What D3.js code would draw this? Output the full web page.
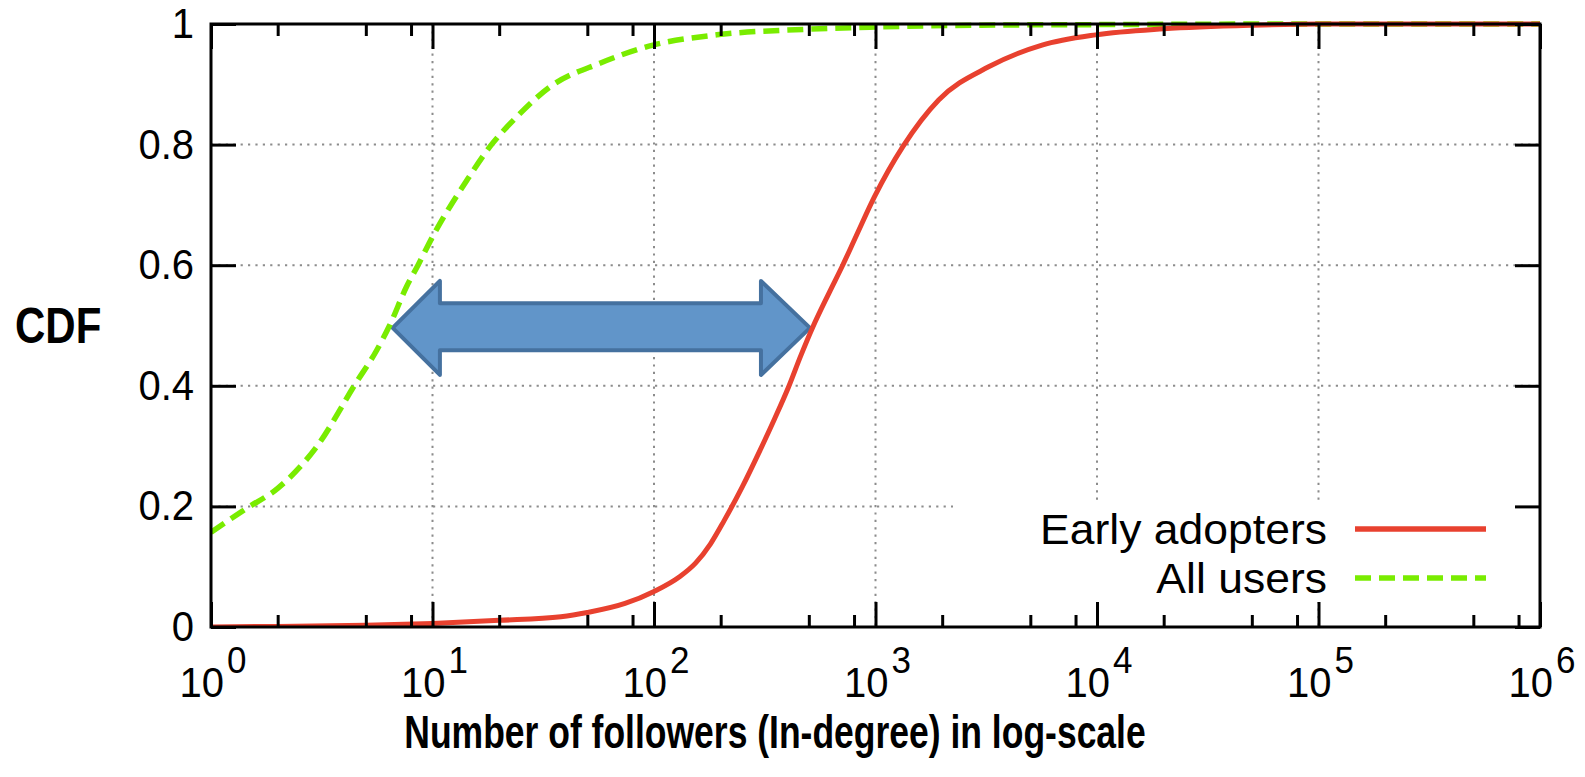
<!DOCTYPE html>
<html>
<head>
<meta charset="utf-8">
<script src="https://cdn.jsdelivr.net/npm/d3@7"></script>
<style>
  html, body { margin: 0; padding: 0; background: #fff; }
  svg { display: block; }
  text { font-family: "Liberation Sans", Arial, Helvetica, sans-serif; fill: #000; }
</style>
</head>
<body>
<svg id="chart" width="1585" height="777"></svg>
<script>
// ---- Data ----
const earlyX = [1, 2, 5, 10, 20, 38, 50, 74, 100, 130, 154, 180, 207, 250, 301, 350, 405, 460, 522, 615, 711, 817, 991, 1331, 1928, 3241, 5648, 9863, 20000, 50000, 100000, 1000000];
const earlyY = [0, 0.001, 0.003, 0.006, 0.011, 0.017, 0.024, 0.039, 0.059, 0.083, 0.106, 0.138, 0.176, 0.232, 0.293, 0.345, 0.398, 0.45, 0.498, 0.553, 0.6, 0.648, 0.714, 0.797, 0.874, 0.929, 0.965, 0.982, 0.992, 0.998, 1, 1];

const allX = [1, 1.45, 2, 3, 4.5, 5.6, 6.4, 7.65, 8.6, 10, 14.3, 18.2, 24, 34, 57, 99, 192, 470, 1000, 3000, 10000, 100000, 1000000];
const allY = [0.157, 0.197, 0.23, 0.299, 0.404, 0.459, 0.5, 0.565, 0.6, 0.647, 0.741, 0.797, 0.846, 0.896, 0.935, 0.965, 0.982, 0.991, 0.995, 0.998, 0.999, 1, 1];

const seriesNames = ["Early adopters", "All users"];
const yTicks = [0, 0.2, 0.4, 0.6, 0.8, 1];
const yTickLabels = ["0", "0.2", "0.4", "0.6", "0.8", "1"];
const xMajor = [1, 10, 100, 1000, 10000, 100000, 1000000];
const xMajorExp = ["0", "1", "2", "3", "4", "5", "6"];
const xMinorMult = [2, 5, 8];
const yTitle = "CDF";
const xTitle = "Number of followers (In-degree) in log-scale";

// double-headed arrow annotation, in data units (followers, CDF)
const arrowX = [6.61, 10.8, 10.8, 304, 304, 506, 304, 304, 10.8, 10.8];
const arrowY = [0.496, 0.574, 0.537, 0.537, 0.574, 0.496, 0.418, 0.459, 0.459, 0.418];

// ---- Layout ----
const L = 211, R = 1540, T = 24, B = 627;
const svg = d3.select("#chart");
const x = d3.scaleLog().domain([1, 1e6]).range([L, R]);
const y = d3.scaleLinear().domain([0, 1]).range([B, T]);

const minors = [];
for (let d = 0; d < 6; d++) xMinorMult.forEach(m => minors.push(m * Math.pow(10, d)));

// grid
const grid = svg.append("g").attr("stroke", "#8c8c8c").attr("stroke-width", 2).attr("stroke-dasharray", "2.2,5.2");
grid.selectAll("line.gx").data(xMajor.slice(1, -1)).join("line")
  .attr("x1", d => x(d)).attr("x2", d => x(d)).attr("y1", y(1)).attr("y2", y(0));
grid.selectAll("line.gy").data(yTicks.slice(1, -1)).join("line")
  .attr("y1", d => y(d)).attr("y2", d => y(d)).attr("x1", L).attr("x2", R);

// legend background (hides grid)
svg.append("rect").attr("x", 953).attr("y", 504).attr("width", R - 953 - 2).attr("height", 98).attr("fill", "#fff");

// arrow
const arrowPts = arrowX.map((v, i) => [x(v), y(arrowY[i])]);
svg.append("path")
  .attr("d", d3.line()(arrowPts) + "Z")
  .attr("fill", "#6195c9").attr("stroke", "#45719f").attr("stroke-width", 4).attr("stroke-linejoin", "round");

// curves
svg.append("clipPath").attr("id", "clip").append("rect").attr("x", L).attr("y", T - 4).attr("width", R - L).attr("height", B - T + 4);
const line = d3.line().x(d => x(d[0])).y(d => y(d[1])).curve(d3.curveMonotoneX);
const curves = svg.append("g").attr("clip-path", "url(#clip)");
curves.append("path").datum(allX.map((v, i) => [v, allY[i]]))
  .attr("d", line).attr("fill", "none").attr("stroke", "#79ec00").attr("stroke-width", 5.5).attr("stroke-dasharray", "16,8");
curves.append("path").datum(earlyX.map((v, i) => [v, earlyY[i]]))
  .attr("d", line).attr("fill", "none").attr("stroke", "#e8412f").attr("stroke-width", 5);

// axes ticks
function styleAxis(g) {
  g.select(".domain").remove();
  g.selectAll(".tick line").attr("stroke", "#000").attr("stroke-width", 3);
}
svg.append("g").attr("transform", `translate(0,${B})`)
  .call(d3.axisBottom(x).tickValues(xMajor).tickSize(-25).tickFormat("")).call(styleAxis);
svg.append("g").attr("transform", `translate(0,${B})`)
  .call(d3.axisBottom(x).tickValues(minors).tickSize(-12).tickFormat("")).call(styleAxis);
svg.append("g").attr("transform", `translate(0,${T})`)
  .call(d3.axisTop(x).tickValues(xMajor).tickSize(-25).tickFormat("")).call(styleAxis);
svg.append("g").attr("transform", `translate(0,${T})`)
  .call(d3.axisTop(x).tickValues(minors).tickSize(-12).tickFormat("")).call(styleAxis);
svg.append("g").attr("transform", `translate(${R},0)`)
  .call(d3.axisRight(y).tickValues(yTicks).tickSize(-25).tickFormat("")).call(styleAxis);
const yAx = svg.append("g").attr("transform", `translate(${L},0)`)
  .call(d3.axisLeft(y).tickValues(yTicks).tickSize(-25).tickPadding(17).tickFormat((d, i) => yTickLabels[i]))
  .call(styleAxis);
yAx.selectAll(".tick text").attr("font-size", 40).attr("font-family", "'Liberation Sans', Arial, sans-serif").attr("fill", "#000")
  .attr("transform", "scale(1,1.05)").attr("y", 0).attr("dy", "0.32em");

// frame
svg.append("rect").attr("x", L).attr("y", T).attr("width", R - L).attr("height", B - T)
  .attr("fill", "none").attr("stroke", "#000").attr("stroke-width", 3);

// x tick labels with superscripts
const xl = svg.append("g").selectAll("text").data(xMajor).join("text")
  .attr("transform", d => `translate(${x(d) + 2},697) scale(1,1.05)`).attr("text-anchor", "middle").attr("font-size", 40);
xl.append("tspan").text("10");
xl.append("tspan").attr("dy", -23).attr("dx", 3).attr("font-size", 35).text((d, i) => xMajorExp[i]);

// titles
svg.append("text").attr("transform", "translate(15,343) scale(1,1.17)").attr("font-size", 42).attr("font-weight", "bold").text(yTitle);
svg.append("text").attr("transform", "translate(775,748) scale(1,1.3)").attr("text-anchor", "middle").attr("font-size", 35.5).attr("font-weight", "bold").text(xTitle);

// legend
const legY = [529, 578];
const leg = svg.append("g");
leg.selectAll("text").data(seriesNames).join("text")
  .attr("transform", (d, i) => `translate(1327,${legY[i] + 15}) scale(1.035,1)`).attr("text-anchor", "end").attr("font-size", 43).text(d => d);
leg.append("line").attr("x1", 1355).attr("x2", 1486).attr("y1", legY[0]).attr("y2", legY[0])
  .attr("stroke", "#e8412f").attr("stroke-width", 5.5);
leg.append("line").attr("x1", 1355).attr("x2", 1486).attr("y1", legY[1]).attr("y2", legY[1])
  .attr("stroke", "#79ec00").attr("stroke-width", 5.5).attr("stroke-dasharray", "16,8");
</script>
</body>
</html>
